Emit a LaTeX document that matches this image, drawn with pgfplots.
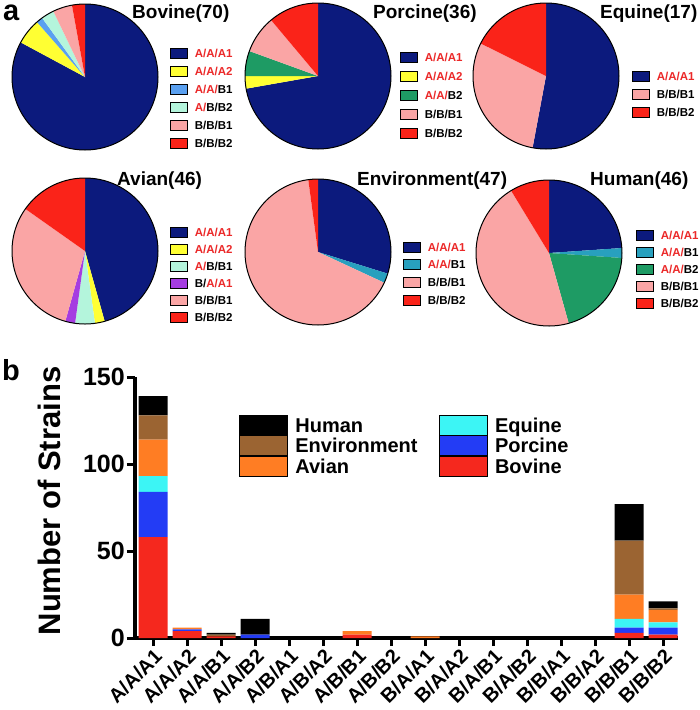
\documentclass[border=0pt]{standalone}
\usepackage{pgfplots}
\pgfplotsset{compat=1.18}
\usepackage{fontspec}
\setmainfont{Liberation Sans}
\definecolor{navy}{RGB}{12,26,125}
\definecolor{pyel}{RGB}{255,255,51}
\definecolor{lblue}{RGB}{90,160,240}
\definecolor{aqua}{RGB}{180,245,220}
\definecolor{ppink}{RGB}{250,165,165}
\definecolor{pred}{RGB}{250,35,25}
\definecolor{pgreen}{RGB}{30,155,100}
\definecolor{ppurple}{RGB}{165,60,225}
\definecolor{pteal}{RGB}{40,160,190}
\definecolor{rt}{RGB}{235,40,40}
\definecolor{cbov}{RGB}{245,40,30}
\definecolor{cpor}{RGB}{35,60,245}
\definecolor{cequ}{RGB}{60,245,245}
\definecolor{cavi}{RGB}{255,125,35}
\definecolor{cenv}{RGB}{155,100,50}
\definecolor{chum}{RGB}{0,0,0}
\newcommand{\fs}[1]{\fontsize{#1}{#1}\selectfont\bfseries}
% slice: colour, cumulative count before, count, total
\newcommand{\slice}[4]{\fill[#1] (axis cs:0,0) -- (axis cs:{cos(90-(#2/#4)*360)},{sin(90-(#2/#4)*360)}) arc[start angle={90-(#2/#4)*360}, end angle={90-((#2+#3)/#4)*360}, radius=73pt] -- cycle;}
\newcommand{\rim}{\draw[black, line width=1pt] (axis cs:0,0) circle[radius=73pt];}
\pgfplotsset{pie/.style={hide axis, scale only axis, width=146pt, height=146pt,
  xmin=-1, xmax=1, ymin=-1, ymax=1, clip=false, anchor=center,
  legend cell align=left,
  legend style={draw=none, fill=none, inner sep=0pt, outer sep=0pt, anchor=north west,
    font=\fs{11.5}, nodes={inner sep=0pt, text height=13.1pt, text depth=4.9pt},
    column sep=7pt, row sep=0pt},
  legend image code/.code={\draw[##1, line width=0.9pt] (0pt,-5pt) rectangle (17pt,5pt);}
}}
\begin{document}
\begin{tikzpicture}
\useasboundingbox (0,0) rectangle (700pt,-710pt);
\node[anchor=base west, font=\fs{29}, inner sep=0pt] at (3pt,-20pt) {a};
\node[anchor=base west, font=\fs{29}, inner sep=0pt] at (2pt,-380pt) {b};
% titles
\node[anchor=base west, font=\fs{19}, inner sep=0pt] at (132pt,-18pt) {Bovine(70)};
\node[anchor=base west, font=\fs{19}, inner sep=0pt] at (373pt,-18pt) {Porcine(36)};
\node[anchor=base west, font=\fs{19}, inner sep=0pt] at (600pt,-18pt) {Equine(17)};
\node[anchor=base west, font=\fs{19}, inner sep=0pt] at (117pt,-185pt) {Avian(46)};
\node[anchor=base west, font=\fs{19}, inner sep=0pt] at (357pt,-185pt) {Environment(47)};
\node[anchor=base west, font=\fs{19}, inner sep=0pt] at (590pt,-185pt) {Human(46)};

% Bovine (70): 58,4,1,2,3,2
\begin{axis}[pie, at={(85pt,-77pt)}, legend style={at={(axis cs:1.164,0.452)}}]
\slice{navy}{0}{58}{70}\slice{pyel}{58}{4}{70}\slice{lblue}{62}{1}{70}
\slice{aqua}{63}{2}{70}\slice{ppink}{65}{3}{70}\slice{pred}{68}{2}{70}\rim
\addlegendimage{fill=navy}\addlegendentry{\textcolor{rt}{A/A/A1}}
\addlegendimage{fill=pyel}\addlegendentry{\textcolor{rt}{A/A/A2}}
\addlegendimage{fill=lblue}\addlegendentry{\textcolor{rt}{A/A/}B1}
\addlegendimage{fill=aqua}\addlegendentry{\textcolor{rt}{A/}B/B2}
\addlegendimage{fill=ppink}\addlegendentry{B/B/B1}
\addlegendimage{fill=pred}\addlegendentry{B/B/B2}
\end{axis}
% Porcine (36): 26,1,2,3,4
\begin{axis}[pie, at={(318pt,-76pt)}, legend style={at={(axis cs:1.123,0.384)}, row sep=1pt}]
\slice{navy}{0}{26}{36}\slice{pyel}{26}{1}{36}\slice{pgreen}{27}{2}{36}
\slice{ppink}{29}{3}{36}\slice{pred}{32}{4}{36}\rim
\addlegendimage{fill=navy}\addlegendentry{\textcolor{rt}{A/A/A1}}
\addlegendimage{fill=pyel}\addlegendentry{\textcolor{rt}{A/A/A2}}
\addlegendimage{fill=pgreen}\addlegendentry{\textcolor{rt}{A/A/}B2}
\addlegendimage{fill=ppink}\addlegendentry{B/B/B1}
\addlegendimage{fill=pred}\addlegendentry{B/B/B2}
\end{axis}
% Equine (17): 9,5,3
\begin{axis}[pie, at={(546pt,-76pt)}, legend style={at={(axis cs:1.178,0.123)}}]
\slice{navy}{0}{9}{17}\slice{ppink}{9}{5}{17}\slice{pred}{14}{3}{17}\rim
\addlegendimage{fill=navy}\addlegendentry{\textcolor{rt}{A/A/A1}}
\addlegendimage{fill=ppink}\addlegendentry{B/B/B1}
\addlegendimage{fill=pred}\addlegendentry{B/B/B2}
\end{axis}
% Avian (46): 21,1,2,1,14,7
\begin{axis}[pie, at={(85pt,-251pt)}, legend style={at={(axis cs:1.164,0.384)}, row sep=-1pt}]
\slice{navy}{0}{21}{46}\slice{pyel}{21}{1}{46}\slice{aqua}{22}{2}{46}
\slice{ppurple}{24}{1}{46}\slice{ppink}{25}{14}{46}\slice{pred}{39}{7}{46}\rim
\addlegendimage{fill=navy}\addlegendentry{\textcolor{rt}{A/A/A1}}
\addlegendimage{fill=pyel}\addlegendentry{\textcolor{rt}{A/A/A2}}
\addlegendimage{fill=aqua}\addlegendentry{\textcolor{rt}{A/}B/B1}
\addlegendimage{fill=ppurple}\addlegendentry{B/\textcolor{rt}{A/A1}}
\addlegendimage{fill=ppink}\addlegendentry{B/B/B1}
\addlegendimage{fill=pred}\addlegendentry{B/B/B2}
\end{axis}
% Environment (47): 14,1,31,1
\begin{axis}[pie, at={(318pt,-252pt)}, legend style={at={(axis cs:1.164,0.192)}, row sep=-0.3pt}]
\slice{navy}{0}{14}{47}\slice{pteal}{14}{1}{47}\slice{ppink}{15}{31}{47}\slice{pred}{46}{1}{47}\rim
\addlegendimage{fill=navy}\addlegendentry{\textcolor{rt}{A/A/A1}}
\addlegendimage{fill=pteal}\addlegendentry{\textcolor{rt}{A/A/}B1}
\addlegendimage{fill=ppink}\addlegendentry{B/B/B1}
\addlegendimage{fill=pred}\addlegendentry{B/B/B2}
\end{axis}
% Human (46): 11,1,9,21,4
\begin{axis}[pie, at={(549pt,-253pt)}, legend style={at={(axis cs:1.192,0.370)}, row sep=-1pt}]
\slice{navy}{0}{11}{46}\slice{pteal}{11}{1}{46}\slice{pgreen}{12}{9}{46}
\slice{ppink}{21}{21}{46}\slice{pred}{42}{4}{46}\rim
\addlegendimage{fill=navy}\addlegendentry{\textcolor{rt}{A/A/A1}}
\addlegendimage{fill=pteal}\addlegendentry{\textcolor{rt}{A/A/}B1}
\addlegendimage{fill=pgreen}\addlegendentry{\textcolor{rt}{A/A/}B2}
\addlegendimage{fill=ppink}\addlegendentry{B/B/B1}
\addlegendimage{fill=pred}\addlegendentry{B/B/B2}
\end{axis}

% Bar chart
\begin{axis}[at={(135pt,-638pt)}, anchor=south west, scale only axis,
  width=543pt, height=261pt,
  ybar stacked, bar width=29pt,
  xmin=-0.53, xmax=15.44, ymin=0, ymax=150,
  axis lines=left, axis line style={-, line width=3.5pt},
  ytick={0,50,100,150}, xtick={0,...,15},
  xticklabels={A/A/A1,A/A/A2,A/A/B1,A/A/B2,A/B/A1,A/B/A2,A/B/B1,A/B/B2,B/A/A1,B/A/A2,B/A/B1,B/A/B2,B/B/A1,B/B/A2,B/B/B1,B/B/B2},
  tick align=outside, major tick length=8pt, tick style={line width=3pt, black},
  /pgf/number format/assume math mode=true,
  yticklabel style={font=\fs{25}, inner sep=2pt},
  xticklabel style={font=\fs{20}, rotate=45, anchor=north east, inner sep=1pt},
  ylabel={Number of Strains},
  ylabel style={font=\fs{31}, at={(axis description cs:-0.158,0.525)}, anchor=center},
  legend columns=2,
  legend style={draw=none, fill=none, inner sep=0pt, outer sep=0pt, at={(0.1915,0.8544)}, anchor=north west,
    font=\fs{20}, nodes={inner sep=0pt, text height=17.2pt, text depth=2.8pt},
    column sep=8pt, row sep=0pt, /tikz/every even column/.append style={column sep=21pt}},
  legend cell align=left,
  legend image code/.code={\fill[#1] (0pt,-10pt) rectangle (48pt,10pt);},
]
\addplot[fill=cbov, draw=none, forget plot] coordinates {(0,58) (1,4) (2,1) (3,0) (4,0) (5,0) (6,2) (7,0) (8,0) (9,0) (10,0) (11,0) (12,0) (13,0) (14,3) (15,2)};
\addplot[fill=cpor, draw=none, forget plot] coordinates {(0,26) (1,1) (2,0) (3,2) (4,0) (5,0) (6,0) (7,0) (8,0) (9,0) (10,0) (11,0) (12,0) (13,0) (14,3) (15,4)};
\addplot[fill=cequ, draw=none, forget plot] coordinates {(0,9) (1,0) (2,0) (3,0) (4,0) (5,0) (6,0) (7,0) (8,0) (9,0) (10,0) (11,0) (12,0) (13,0) (14,5) (15,3)};
\addplot[fill=cavi, draw=none, forget plot] coordinates {(0,21) (1,1) (2,0) (3,0) (4,0) (5,0) (6,2) (7,0) (8,1) (9,0) (10,0) (11,0) (12,0) (13,0) (14,14) (15,7)};
\addplot[fill=cenv, draw=none, forget plot] coordinates {(0,14) (1,0) (2,1) (3,0) (4,0) (5,0) (6,0) (7,0) (8,0) (9,0) (10,0) (11,0) (12,0) (13,0) (14,31) (15,1)};
\addplot[fill=chum, draw=none, forget plot] coordinates {(0,11) (1,0) (2,1) (3,9) (4,0) (5,0) (6,0) (7,0) (8,0) (9,0) (10,0) (11,0) (12,0) (13,0) (14,21) (15,4)};
\addlegendimage{fill=chum}\addlegendentry{Human}
\addlegendimage{fill=cequ}\addlegendentry{Equine}
\addlegendimage{fill=cenv}\addlegendentry{Environment}
\addlegendimage{fill=cpor}\addlegendentry{Porcine}
\addlegendimage{fill=cavi}\addlegendentry{Avian}
\addlegendimage{fill=cbov}\addlegendentry{Bovine}
\end{axis}
\end{tikzpicture}
\end{document}
